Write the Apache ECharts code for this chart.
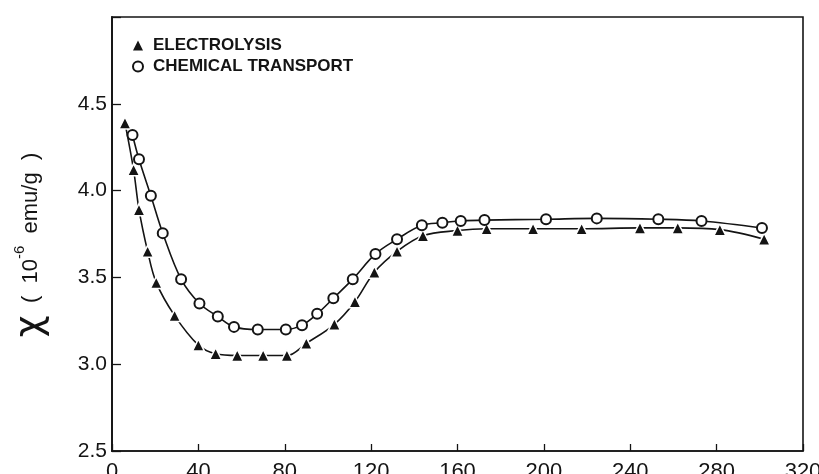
<!DOCTYPE html>
<html>
<head>
<meta charset="utf-8">
<script src="https://cdn.jsdelivr.net/npm/echarts@6/dist/echarts.min.js"></script>
<style>
  html, body { margin: 0; padding: 0; background: #fff; }
  #chart { width: 819px; height: 474px; }
</style>
</head>
<body>
<div id="chart"></div>
<script>
// Magnetic susceptibility vs temperature (K) for two sample preparations
const seriesNames = ['ELECTROLYSIS', 'CHEMICAL TRANSPORT'];

const electrolysisT = [6, 10, 12.5, 16.5, 20.5, 29, 40, 48, 58, 70, 81, 90, 103, 112.5, 121.5, 132, 144, 160, 173.5, 195, 217.5, 244.5, 262, 281.5, 302];
const electrolysisChi = [4.39, 4.12, 3.89, 3.65, 3.47, 3.28, 3.11, 3.06, 3.05, 3.05, 3.05, 3.12, 3.23, 3.36, 3.53, 3.65, 3.74, 3.77, 3.78, 3.78, 3.78, 3.785, 3.785, 3.775, 3.72];

const transportT = [9.5, 12.5, 18, 23.5, 32, 40.5, 49, 56.5, 67.5, 80.5, 88, 95, 102.5, 111.5, 122, 132, 143.5, 153, 161.5, 172.5, 201, 224.5, 253, 273, 301];
const transportChi = [4.32, 4.18, 3.97, 3.755, 3.49, 3.35, 3.275, 3.215, 3.2, 3.2, 3.225, 3.29, 3.38, 3.49, 3.635, 3.72, 3.8, 3.815, 3.825, 3.83, 3.835, 3.84, 3.835, 3.825, 3.785];

const xTicks = { min: 0, max: 320, step: 40 };
const yTicks = { min: 2.5, max: 5.0, step: 0.5 };

const pairs = (xs, ys) => xs.map((x, i) => [x, ys[i]]);

const ink = '#141414';
const font = 'Liberation Sans';

const chart = echarts.init(document.getElementById('chart'), null, { renderer: 'canvas' });

chart.setOption({
  animation: false,
  backgroundColor: '#ffffff',
  grid: {
    left: 112, right: 16, top: 17, bottom: 23,
    outerBoundsMode: 'none',
    containLabel: false,
    show: true, borderColor: ink, borderWidth: 1.6, backgroundColor: 'transparent'
  },
  legend: {
    orient: 'vertical',
    left: 127, top: 32,
    itemWidth: 10, itemHeight: 10, itemGap: 4,
    textStyle: { fontFamily: font, fontSize: 17, fontWeight: 'bold', color: ink, padding: [0, 0, 0, 5] },
    data: [
      { name: seriesNames[0], icon: 'triangle', itemStyle: { borderWidth: 0 } },
      { name: seriesNames[1], icon: 'emptyCircle', itemStyle: { borderWidth: 1.4 } }
    ]
  },
  xAxis: {
    type: 'value',
    min: xTicks.min, max: xTicks.max, interval: xTicks.step,
    axisLine: { lineStyle: { color: ink, width: 1.6 } },
    axisTick: { inside: true, length: 7, lineStyle: { color: ink, width: 1.3 } },
    splitLine: { show: false },
    axisLabel: { margin: 10, fontFamily: font, fontSize: 22, color: ink }
  },
  yAxis: {
    type: 'value',
    min: yTicks.min, max: yTicks.max, interval: yTicks.step,
    axisLine: { show: true, lineStyle: { color: ink, width: 1.8 } },
    axisTick: { inside: true, length: 9, lineStyle: { color: ink, width: 1.3 } },
    splitLine: { show: false },
    axisLabel: {
      margin: 5, fontFamily: font, fontSize: 21, color: ink,
      formatter: v => (v >= yTicks.max - 1e-9 ? '' : v.toFixed(1))
    },
    name: '{c|χ}  (  10{s|-6}  emu/g  )',
    nameLocation: 'middle',
    nameGap: 62,
    nameRotate: 90,
    nameTextStyle: {
      fontFamily: font, fontSize: 22, color: ink,
      padding: [0, 22, 0, 0],
      rich: {
        c: { fontFamily: 'DejaVu Sans', fontSize: 38, color: ink },
        s: { fontFamily: font, fontSize: 15, color: ink, verticalAlign: 'top', padding: [0, 0, 12, 0] }
      }
    }
  },
  series: [
    {
      name: seriesNames[0],
      type: 'line',
      data: pairs(electrolysisT, electrolysisChi),
      smooth: 0.35,
      symbol: 'triangle',
      symbolSize: 12,
      lineStyle: { color: ink, width: 1.6 },
      itemStyle: { color: ink, borderColor: '#ffffff', borderWidth: 1.5 },
      z: 3
    },
    {
      name: seriesNames[1],
      type: 'line',
      data: pairs(transportT, transportChi),
      smooth: 0.35,
      symbol: 'emptyCircle',
      symbolSize: 10,
      lineStyle: { color: ink, width: 1.6 },
      itemStyle: { color: ink, borderWidth: 1.8 },
      z: 4
    }
  ]
});
</script>
</body>
</html>
